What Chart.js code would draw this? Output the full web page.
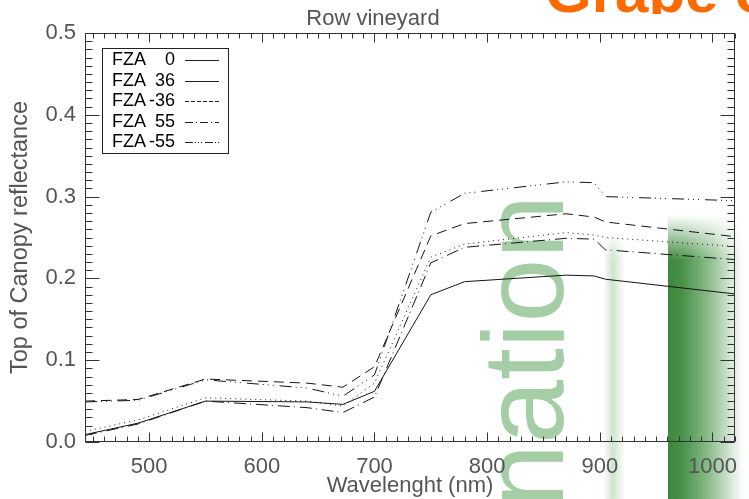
<!DOCTYPE html>
<html>
<head>
<meta charset="utf-8">
<script src="https://cdn.jsdelivr.net/npm/chart.js@4.4.1/dist/chart.umd.min.js"></script>
<style>
html,body{margin:0;padding:0;background:#fff;overflow:hidden}
#wrap{position:relative;width:749px;height:499px;overflow:hidden;background:#fff}
#orangeClip{position:absolute;left:0;top:0;width:749px;height:14px;overflow:hidden}
#orange{position:absolute;left:545px;top:-38px;font:bold 60px "Liberation Sans",Arial,sans-serif;color:#ff6a00;line-height:60px;white-space:nowrap}
#ation{position:absolute;left:466px;top:508px;transform-origin:0 0;transform:rotate(-90deg);font:115px "Liberation Sans",Arial,sans-serif;line-height:115px;color:#a6cea6;white-space:nowrap}
#bar{position:absolute;left:668px;top:215px;width:75px;height:290px;background:linear-gradient(to right,#3c883c 0%,#4a924a 20%,#8dbd8d 55%,rgba(255,255,255,0) 100%);-webkit-mask-image:linear-gradient(to bottom,transparent 0,#000 45px);mask-image:linear-gradient(to bottom,transparent 0,#000 45px)}
#strip{position:absolute;left:603px;top:230px;width:22px;height:275px;background:linear-gradient(to right,rgba(200,225,200,0) 0%,rgba(195,222,195,0.8) 45%,rgba(255,255,255,0) 100%);-webkit-mask-image:linear-gradient(to bottom,transparent 0,#000 30px);mask-image:linear-gradient(to bottom,transparent 0,#000 30px)}
canvas{position:absolute;left:0;top:0}
</style>
</head>
<body>
<div id="wrap">
  <div id="orangeClip"><div id="orange">Grape c</div></div>
  <div id="strip"></div>
  <div id="bar"></div>
  <div id="ation">nation</div>
  <canvas id="c" width="749" height="499"></canvas>
</div>
<script>
// ---- data ----
const wavelengths = [443, 490, 550, 640, 672, 700, 750, 780, 870, 895, 905, 1020];
const seriesNames = ['FZA  0', 'FZA  36', 'FZA -36', 'FZA  55', 'FZA -55'];
const fza0     = [0.009, 0.023, 0.050, 0.049, 0.046, 0.062, 0.180, 0.196, 0.204, 0.203, 0.199, 0.181];
const fza36    = [0.013, 0.027, 0.054, 0.050, 0.044, 0.072, 0.226, 0.242, 0.256, 0.253, 0.250, 0.239];
const fzaM36   = [0.050, 0.052, 0.077, 0.072, 0.067, 0.092, 0.252, 0.267, 0.279, 0.275, 0.269, 0.251];
const fza55    = [0.008, 0.022, 0.050, 0.042, 0.036, 0.055, 0.219, 0.238, 0.249, 0.248, 0.235, 0.223];
const fzaM55   = [0.049, 0.051, 0.076, 0.066, 0.056, 0.082, 0.281, 0.304, 0.318, 0.317, 0.300, 0.295];
const xTickValues = [500, 600, 700, 800, 900, 1000];
const yTickValues = [0.0, 0.1, 0.2, 0.3, 0.4, 0.5];

// ---- styles ----
const FONT = "'Liberation Sans', Arial, sans-serif";
const lineDashes = [[], [1, 4], [10, 6], [12, 4, 1, 5], [12, 4, 1, 4, 1, 4, 1, 6]];
const legendDashes = [[], [], [4, 2], [8, 3, 1, 3], [8, 2, 1, 2, 1, 2, 1, 3]];
const allSeries = [fza0, fza36, fzaM36, fza55, fzaM55];

const datasets = allSeries.map((s, i) => ({
  label: seriesNames[i],
  data: wavelengths.map((w, j) => ({x: w, y: s[j]})),
  borderColor: '#151515',
  borderWidth: 1,
  borderDash: lineDashes[i],
  pointRadius: 0,
  tension: 0,
  fill: false
}));

const frameTicks = {
  id: 'frameTicks',
  afterDatasetsDraw(chart) {
    const ctx = chart.ctx, a = chart.chartArea, xs = chart.scales.x, ys = chart.scales.y;
    ctx.save();
    ctx.strokeStyle = '#333';
    ctx.lineWidth = 1;
    const L = Math.round(a.left) + 0.5, R = Math.round(a.right) - 0.5;
    const T = Math.round(a.top) + 0.5, B = Math.round(a.bottom) - 0.5;
    ctx.strokeRect(L, T, R - L, B - T);
    ctx.beginPath();
    const x0 = Math.ceil(xs.min / 10), x1 = Math.floor(xs.max / 10);
    for (let k = x0; k <= x1; k++) {
      const px = Math.round(xs.getPixelForValue(k * 10)) + 0.5;
      const len = (k % 10 === 0) ? 9 : 5;
      ctx.moveTo(px, B); ctx.lineTo(px, B - len);
      ctx.moveTo(px, T); ctx.lineTo(px, T + len);
    }
    for (let k = 0; k <= 50; k++) {
      const py = Math.round(ys.getPixelForValue(k / 100)) + 0.5;
      const len = (k % 10 === 0) ? 14 : 7;
      ctx.moveTo(L, py); ctx.lineTo(L + len, py);
      ctx.moveTo(R, py); ctx.lineTo(R - len, py);
    }
    ctx.stroke();
    ctx.restore();
  },
  afterDraw(chart) {
    const ctx = chart.ctx;
    ctx.save();
    ctx.strokeStyle = '#222';
    ctx.lineWidth = 1;
    ctx.fillStyle = '#fff';
    ctx.fillRect(102, 48, 126, 105);
    ctx.strokeRect(102.5, 48.5, 126, 105);
    ctx.font = '18px ' + FONT;
    ctx.fillStyle = '#000';
    ctx.textBaseline = 'middle';
    seriesNames.forEach((name, i) => {
      const y = 60 + i * 20.6;
      const num = name.replace('FZA', '').trim();
      ctx.textAlign = 'left';
      ctx.fillText('FZA', 112, y);
      ctx.textAlign = 'right';
      ctx.fillText(num, 175, y);
      ctx.beginPath();
      ctx.setLineDash(legendDashes[i]);
      const ly = Math.round(y) + 0.5;
      ctx.moveTo(185, ly); ctx.lineTo(219, ly);
      ctx.stroke();
      ctx.setLineDash([]);
    });
    ctx.restore();
  }
};

new Chart(document.getElementById('c'), {
  type: 'line',
  data: {datasets},
  plugins: [frameTicks],
  options: {
    responsive: false,
    animation: false,
    devicePixelRatio: 1,
    layout: {padding: {top: 0, right: 3, left: 0, bottom: 0}},
    plugins: {
      legend: {display: false},
      tooltip: {enabled: false},
      title: {
        display: true, text: 'Row vineyard', color: '#555',
        font: {family: FONT, size: 22, weight: 'normal', lineHeight: 1.2},
        padding: {top: 6, bottom: 0.6}
      }
    },
    scales: {
      x: {
        type: 'linear', min: 443, max: 1020,
        afterBuildTicks: s => { s.ticks = xTickValues.map(v => ({value: v})); },
        afterFit: s => { s.height = 57; },
        grid: {display: false, drawTicks: false},
        border: {display: false},
        ticks: {color: '#555', font: {family: FONT, size: 22}, padding: 12, maxRotation: 0, autoSkip: false, callback: v => String(v)},
        title: {display: true, text: 'Wavelenght (nm)', color: '#555', font: {family: FONT, size: 22, lineHeight: 1.2}, padding: {top: 0, bottom: 0}}
      },
      y: {
        min: 0, max: 0.5,
        afterBuildTicks: s => { s.ticks = yTickValues.map(v => ({value: v})); },
        afterFit: s => { s.width = 85; },
        grid: {display: false, drawTicks: false},
        border: {display: false},
        ticks: {color: '#555', font: {family: FONT, size: 22}, padding: 9, callback: v => Number(v).toFixed(1)},
        title: {display: true, text: 'Top of Canopy reflectance', color: '#555', font: {family: FONT, size: 23.5, lineHeight: 1.2}, padding: {top: 6, bottom: 0}}
      }
    }
  }
});
</script>
</body>
</html>
